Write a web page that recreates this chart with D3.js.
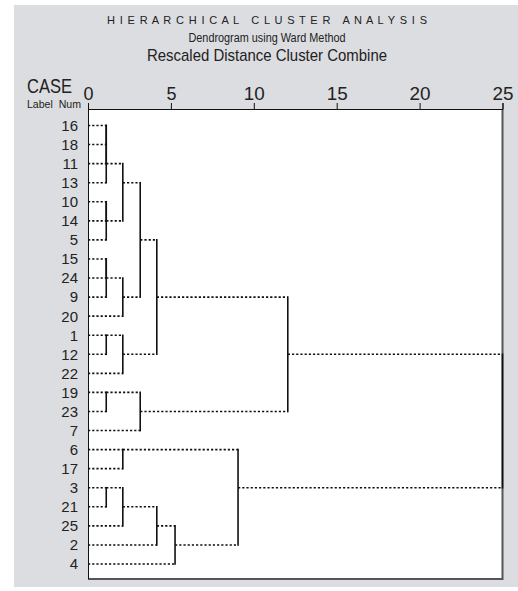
<!DOCTYPE html>
<html>
<head>
<meta charset="utf-8">
<script src="https://cdn.jsdelivr.net/npm/d3@7"></script>
<style>
  body { margin: 0; background: #fff; }
  text { font-family: "Liberation Sans Narrow", "Liberation Sans", sans-serif; fill: #222; }
</style>
</head>
<body>
<div id="chart"></div>
<script>
// case order, top to bottom
const cases = ['16', '18', '11', '13', '10', '14', '5', '15', '24', '9', '20', '1', '12', '22',
  '19', '23', '7', '6', '17', '3', '21', '25', '2', '4'];

// merges: [left, right, distance, newId]
const merges = [
  ['16', '18', 1.1, 'A'],
  ['A', '11', 1.1, 'B'],
  ['B', '13', 1.1, 'C'],
  ['10', '14', 1.1, 'D'],
  ['D', '5', 1.1, 'E'],
  ['C', 'E', 2.1, 'F'],
  ['15', '24', 1.1, 'G'],
  ['G', '9', 1.1, 'H'],
  ['H', '20', 2.1, 'I'],
  ['F', 'I', 3.15, 'J'],
  ['1', '12', 1.1, 'K'],
  ['K', '22', 2.1, 'L'],
  ['J', 'L', 4.15, 'M'],
  ['19', '23', 1.1, 'N'],
  ['N', '7', 3.15, 'O'],
  ['M', 'O', 12.05, 'P'],
  ['6', '17', 2.1, 'Q'],
  ['3', '21', 1.1, 'R'],
  ['R', '25', 2.1, 'S'],
  ['S', '2', 4.15, 'T'],
  ['T', '4', 5.25, 'U'],
  ['Q', 'U', 9.05, 'V'],
  ['P', 'V', 25, 'W']
];

const tickValues = [0, 5, 10, 15, 20, 25];

const width = 518, height = 591;
const plot = { left: 88, right: 502.5, top: 109, bottom: 579 };

const svg = d3.select('#chart')
  .append('svg')
  .attr('width', width)
  .attr('height', height);

// grey panel
svg.append('rect')
  .attr('x', 14).attr('y', 5)
  .attr('width', width - 14).attr('height', 582)
  .attr('fill', '#dcdde0');

// white plot box
svg.append('rect')
  .attr('x', plot.left).attr('y', plot.top)
  .attr('width', plot.right - plot.left).attr('height', plot.bottom - plot.top)
  .attr('fill', '#fff');

// shadowed right / bottom edges
svg.append('path')
  .attr('d', `M${plot.right},${plot.top}V${plot.bottom}H${plot.left}`)
  .attr('fill', 'none')
  .attr('stroke', '#555')
  .attr('stroke-width', 2);

svg.append('line')
  .attr('x1', plot.left + 0.5).attr('x2', plot.left + 0.5)
  .attr('y1', plot.top).attr('y2', plot.bottom)
  .attr('stroke', '#111');

const x = d3.scaleLinear().domain([0, 25]).range([plot.left, plot.right]);
const y = d3.scalePoint().domain(cases).range([125.5, 564]);

// axis on top
const axis = svg.append('g')
  .attr('transform', `translate(0,${plot.top})`)
  .call(d3.axisTop(x).tickValues(tickValues).tickSize(6).tickPadding(3));

axis.select('.domain').attr('stroke', '#111');
axis.selectAll('.tick line').attr('stroke', '#111');
axis.selectAll('.tick text')
  .attr('fill', '#222')
  .style('font-family', '"Liberation Sans Narrow", "Liberation Sans", sans-serif')
  .style('font-size', '19px')
  .attr('textLength', d => d < 10 ? 10 : 21)
  .attr('lengthAdjust', 'spacingAndGlyphs');

// titles
svg.append('text')
  .attr('x', 267).attr('y', 24)
  .attr('text-anchor', 'middle')
  .style('font-size', '11px')
  .style('white-space', 'pre')
  .attr('xml:space', 'preserve')
  .attr('textLength', 320)
  .attr('lengthAdjust', 'spacing')
  .text('H I E R A R C H I C A L   C L U S T E R   A N A L Y S I S');

svg.append('text')
  .attr('x', 267).attr('y', 42)
  .attr('text-anchor', 'middle')
  .style('font-size', '12px')
  .attr('textLength', 157)
  .attr('lengthAdjust', 'spacingAndGlyphs')
  .text('Dendrogram using Ward Method');

svg.append('text')
  .attr('x', 267).attr('y', 61)
  .attr('text-anchor', 'middle')
  .style('font-size', '17px')
  .attr('textLength', 240)
  .attr('lengthAdjust', 'spacingAndGlyphs')
  .text('Rescaled Distance Cluster Combine');

svg.append('text')
  .attr('x', 27).attr('y', 93)
  .style('font-size', '20px')
  .attr('textLength', 45)
  .attr('lengthAdjust', 'spacingAndGlyphs')
  .text('CASE');

svg.append('text')
  .attr('x', 27).attr('y', 108)
  .style('font-size', '11.5px')
  .style('white-space', 'pre')
  .attr('textLength', 54)
  .attr('lengthAdjust', 'spacingAndGlyphs')
  .text('Label  Num');

// case labels
svg.append('g')
  .selectAll('text')
  .data(cases)
  .join('text')
  .attr('x', 78)
  .attr('y', d => y(d))
  .attr('dy', '0.36em')
  .attr('text-anchor', 'end')
  .style('font-size', '15px')
  .text(d => d);

// build node positions: row index + height
const nodes = {};
cases.forEach((c, i) => { nodes[c] = { row: i, h: 0 }; });

const rowY = d3.scaleLinear().domain([0, cases.length - 1]).range(y.range());

const hLines = [], vLines = [];
merges.forEach(([a, b, dist, id]) => {
  const na = nodes[a], nb = nodes[b];
  hLines.push({ x1: na.h, x2: dist, row: na.row });
  hLines.push({ x1: nb.h, x2: dist, row: nb.row });
  vLines.push({ x: dist, r1: na.row, r2: nb.row });
  nodes[id] = { row: Math.floor((na.row + nb.row) / 2), h: dist };
});

svg.append('g')
  .selectAll('line')
  .data(hLines.filter(d => d.x2 > d.x1))
  .join('line')
  .attr('x1', d => x(d.x1))
  .attr('x2', d => x(d.x2))
  .attr('y1', d => rowY(d.row))
  .attr('y2', d => rowY(d.row))
  .attr('stroke', '#111')
  .attr('stroke-width', 1.6)
  .attr('stroke-dasharray', '2.2,2');

svg.append('g')
  .selectAll('line')
  .data(vLines)
  .join('line')
  .attr('x1', d => x(d.x))
  .attr('x2', d => x(d.x))
  .attr('y1', d => rowY(d.r1) - 0.8)
  .attr('y2', d => rowY(d.r2) + 0.8)
  .attr('stroke', '#111')
  .attr('stroke-width', 1.6);
</script>
</body>
</html>
